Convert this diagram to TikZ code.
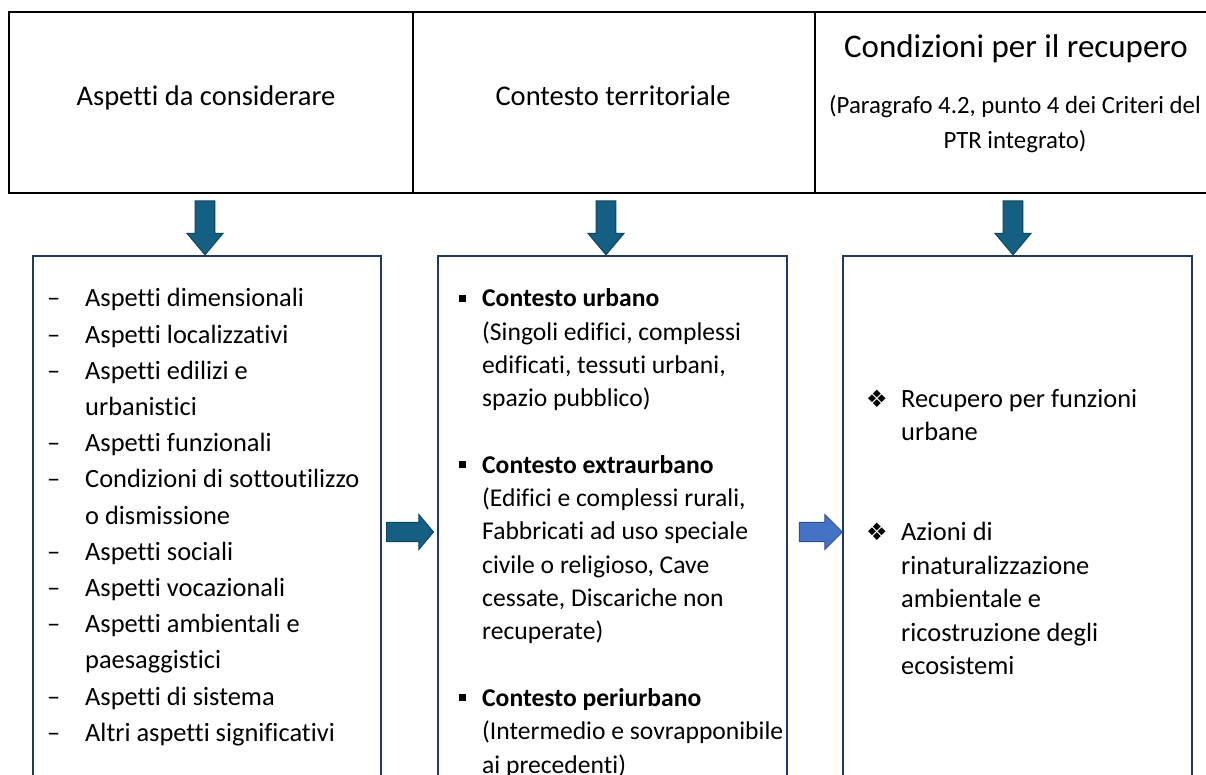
\documentclass[tikz,border=0pt]{standalone}
\usepackage{fontspec}
\setmainfont{Carlito}[Ligatures=NoCommon]
\newfontfamily\dingfont{DejaVu Sans}
\usepackage{tikz}
\usetikzlibrary{shapes.arrows}

\definecolor{boxline}{HTML}{1F3864}
\definecolor{arrowfill}{HTML}{156082}
\definecolor{arrowedge}{HTML}{0E4561}
\definecolor{bluefill}{HTML}{4472C4}
\definecolor{blueedge}{HTML}{2F528F}

\newcommand{\dashitem}{\makebox[38pt][l]{\textendash}}
\newcommand{\squareitem}{\makebox[23pt][l]{\rule[5pt]{7pt}{7pt}}}
\newcommand{\diamitem}{\makebox[35pt][l]{\dingfont\fontsize{24}{24}\selectfont ❖}}

\begin{document}
\begin{tikzpicture}[x=1pt,y=-1pt,
	topbox/.style={draw=black,line width=2.5pt,minimum height=181pt,inner sep=0pt,outer sep=0pt},
	listbox/.style={draw=boxline,line width=2.2pt,minimum height=600pt,anchor=north west,inner sep=0pt,outer sep=0pt},
	headtext/.style={anchor=base,inner sep=0pt,font=\fontsize{28.5}{34}\selectfont},
	subtext/.style={anchor=base,align=center,inner sep=0pt,font=\fontsize{24.8}{35}\selectfont},
	listtext/.style={anchor=base west,align=left,inner sep=0pt,font=\fontsize{26.4}{33.4}\selectfont},
	downarrow/.style={single arrow,draw=arrowedge,fill=arrowfill,line width=1pt,inner sep=8pt,minimum width=36pt,minimum height=54pt,single arrow tip angle=80,shape border rotate=270},
	rightarrow/.style={single arrow,draw=arrowedge,fill=arrowfill,line width=1pt,inner sep=8pt,minimum width=35pt,minimum height=47pt,single arrow tip angle=100}]

	\path[use as bounding box] (0,0) rectangle (1206,775);
	\clip (0,0) rectangle (1206,775);

	\node[topbox,minimum width=404pt] (t1) at (211,102.5) {};
	\node[topbox,minimum width=402pt] (t2) at (614,102.5) {};
	\node[topbox,minimum width=402pt] (t3) at (1016,102.5) {};

	\node[headtext] (h1) at (206,106) {Aspetti da considerare};
	\node[headtext] (h2) at (613,106) {Contesto territoriale};
	\node[headtext,font=\fontsize{33}{34}\selectfont] (h3) at (1016,58) {Condizioni per il recupero};
	\node[subtext] (s3) at (1015,149) {(Paragrafo 4.2, punto 4 dei Criteri del\\PTR integrato)};

	\node[listbox,minimum width=348pt] (b1) at (33,256) {};
	\node[listbox,minimum width=349pt] (b2) at (438,256) {};
	\node[listbox,minimum width=349pt] (b3) at (843,256) {};

	\node[downarrow] (d1) at (205,222) {};
	\node[downarrow] (d2) at (606,222) {};
	\node[downarrow] (d3) at (1013,222) {};
	\node[rightarrow] (r1) at (406,532) {};
	\node[rightarrow,fill=bluefill,draw=blueedge,minimum height=43pt,single arrow tip angle=90] (r2) at (816,532) {};

	\node[listtext,font=\fontsize{26.4}{36.2}\selectfont] (l1) at (47,741.2) {\dashitem Aspetti dimensionali\\
		\dashitem Aspetti localizzativi\\
		\dashitem Aspetti edilizi e\\
		\hspace*{38pt}urbanistici\\
		\dashitem Aspetti funzionali\\
		\dashitem Condizioni di sottoutilizzo\\
		\hspace*{38pt}o dismissione\\
		\dashitem Aspetti sociali\\
		\dashitem Aspetti vocazionali\\
		\dashitem Aspetti ambientali e\\
		\hspace*{38pt}paesaggistici\\
		\dashitem Aspetti di sistema\\
		\dashitem Altri aspetti significativi};

	\node[listtext,font=\fontsize{25.6}{33.3}\selectfont] (l2) at (459,773) {\squareitem\textbf{Contesto urbano}\\
		\hspace*{23pt}(Singoli edifici, complessi\\
		\hspace*{23pt}edificati, tessuti urbani,\\
		\hspace*{23pt}spazio pubblico)\\[33.3pt]
		\squareitem\textbf{Contesto extraurbano}\\
		\hspace*{23pt}(Edifici e complessi rurali,\\
		\hspace*{23pt}Fabbricati ad uso speciale\\
		\hspace*{23pt}civile o religioso, Cave\\
		\hspace*{23pt}cessate, Discariche non\\
		\hspace*{23pt}recuperate)\\[33.3pt]
		\squareitem\textbf{Contesto periurbano}\\
		\hspace*{23pt}(Intermedio e sovrapponibile\\
		\hspace*{23pt}ai precedenti)};

	\node[listtext] (l3) at (866,674.4) {\diamitem Recupero per funzioni\\
		\hspace*{35pt}urbane\\[66.8pt]
		\diamitem Azioni di\\
		\hspace*{35pt}rinaturalizzazione\\
		\hspace*{35pt}ambientale e\\
		\hspace*{35pt}ricostruzione degli\\
		\hspace*{35pt}ecosistemi};
\end{tikzpicture}
\end{document}
